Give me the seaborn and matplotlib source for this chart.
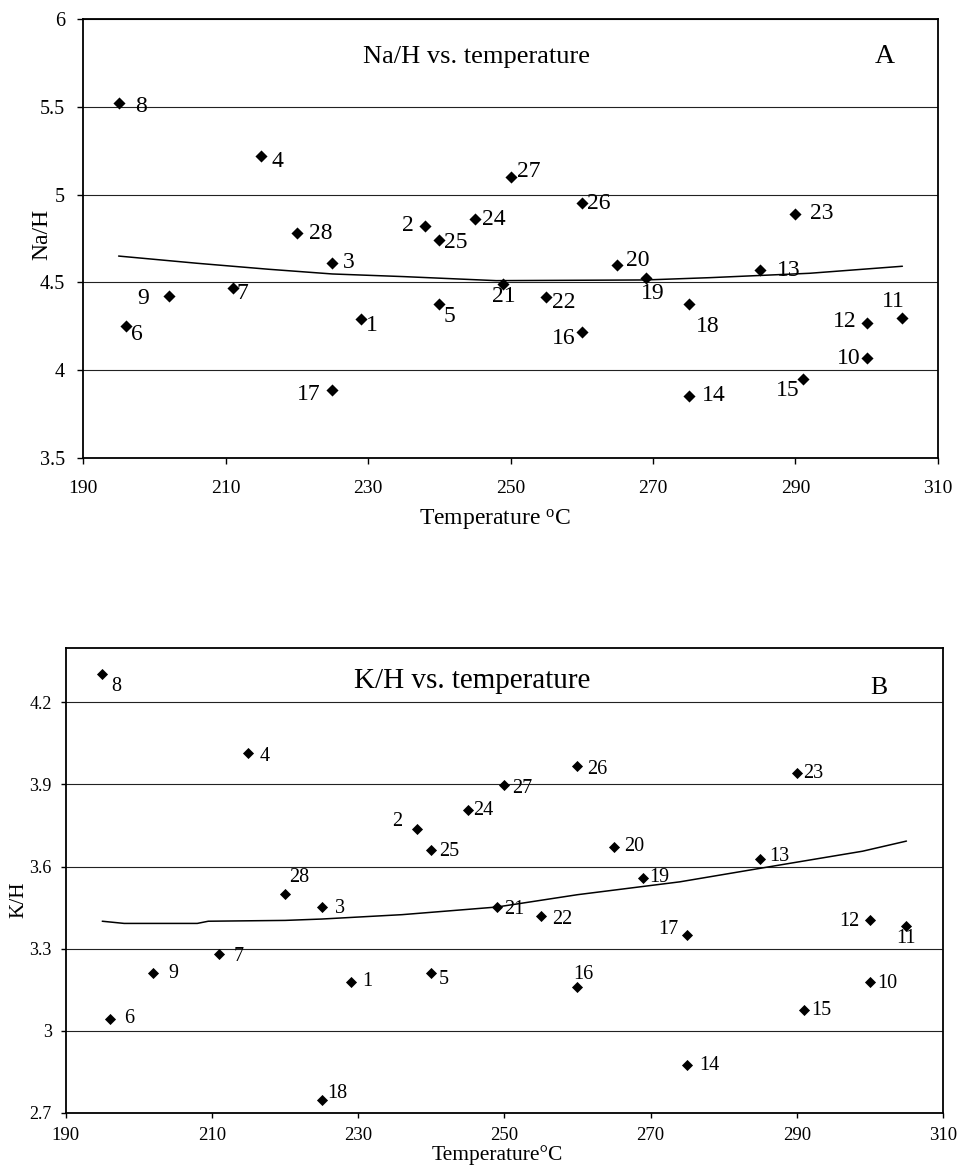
import matplotlib
matplotlib.use("Agg")
import matplotlib.pyplot as plt
import seaborn as sns
import numpy as np

# ---------------- data ----------------
ids = list(range(1, 29))

temp_a = [229, 238, 225, 215, 240, 196, 211, 195, 202, 300, 305, 300, 285, 275,
          291, 260, 225, 275, 269, 265, 249, 255, 290, 245, 240, 260, 250, 220]
na_h = [4.29, 4.82, 4.61, 5.22, 4.375, 4.25, 4.47, 5.52, 4.42, 4.07, 4.30, 4.27, 4.57, 3.855,
        3.95, 4.215, 3.89, 4.375, 4.525, 4.60, 4.49, 4.415, 4.89, 4.86, 4.74, 4.95, 5.10, 4.78]

temp_b = [229, 238, 225, 215, 240, 196, 211, 195, 202, 300, 305, 300, 285, 275,
          291, 260, 275, 225, 269, 265, 249, 255, 290, 245, 240, 260, 250, 220]
k_h = [3.178, 3.736, 3.451, 4.016, 3.209, 3.044, 3.28, 4.303, 3.209, 3.178, 3.384, 3.403, 3.628, 2.874,
       3.076, 3.158, 3.348, 2.745, 3.559, 3.673, 3.452, 3.42, 3.941, 3.806, 3.66, 3.967, 3.897, 3.501]

curve_temp_a = [195, 206, 216, 225, 235, 248, 269, 278, 292, 305]
curve_na = [4.650, 4.609, 4.575, 4.548, 4.533, 4.510, 4.514, 4.527, 4.552, 4.592]

curve_temp_b = [195, 198, 208, 209.5, 220, 225, 236, 249, 260, 274, 288, 299, 305]
curve_k = [3.400, 3.392, 3.392, 3.400, 3.403, 3.408, 3.424, 3.452, 3.497, 3.544, 3.607, 3.656, 3.693]

xticks = [190, 210, 230, 250, 270, 290, 310]
yticks_a = [3.5, 4, 4.5, 5, 5.5, 6]
ytick_labels_a = ["3.5", "4", "4.5", "5", "5.5", "6"]
yticks_b = [2.7, 3.0, 3.3, 3.6, 3.9, 4.2]
ytick_labels_b = ["2.7", "3", "3.3", "3.6", "3.9", "4.2"]

# label offsets in pixels: (dx, dy_down, ha)
offs_a = {1: (5.4, 6.5, 'left'), 2: (-11, -1, 'right'), 3: (10.7, -1, 'left'), 4: (10.7, 6, 'left'),
          5: (4, 12, 'left'), 6: (5.6, 8, 'left'), 7: (4, 6, 'left'), 8: (17, 3, 'left'),
          9: (-19, 2, 'right'), 10: (-6.7, 1, 'right'), 11: (-9, -16, 'center'), 12: (-10, -1.5, 'right'),
          13: (16.7, 0, 'left'), 14: (13, 0, 'left'), 15: (-3, 12, 'right'), 16: (-6, 6, 'right'),
          17: (-12, 5, 'right'), 18: (7.3, 22, 'left'), 19: (7, 15, 'center'), 20: (8.7, -4, 'left'),
          21: (0.5, 12.6, 'center'), 22: (6, 5, 'left'), 23: (15, 0, 'left'), 24: (7, 0, 'left'),
          25: (5, 2, 'left'), 26: (5.6, 0, 'left'), 27: (7, -6, 'left'), 28: (12.7, 0, 'left')}
offs_b = {1: (11.7, 0, 'left'), 2: (-14, -8, 'right'), 3: (13, 1, 'left'), 4: (11.6, 4, 'left'),
          5: (8, 6, 'left'), 6: (15, 0, 'left'), 7: (14, 2, 'left'), 8: (9.3, 12, 'left'),
          9: (15, 0, 'left'), 10: (7.5, 2, 'left'), 11: (0, 13, 'center'), 12: (-10.7, 1, 'right'),
          13: (9.3, -2, 'left'), 14: (11.6, 0, 'left'), 15: (6.7, 1, 'left'), 16: (5.5, -12.7, 'center'),
          17: (-9, -6, 'right'), 18: (5.6, -6.5, 'left'), 19: (5.6, 0, 'left'), 20: (10, 0, 'left'),
          21: (6.6, 2, 'left'), 22: (11.6, 4, 'left'), 23: (6.3, 0, 'left'), 24: (5.4, 0, 'left'),
          25: (8, 1, 'left'), 26: (10, 3.3, 'left'), 27: (7.4, 3, 'left'), 28: (4, -15.7, 'left')}

# ---------------- style ----------------
sns.set_theme(style="ticks")
plt.rcParams['font.family'] = ['Liberation Serif', 'DejaVu Serif']
plt.rcParams['mathtext.fontset'] = 'custom'
plt.rcParams['mathtext.rm'] = 'Liberation Serif'
plt.rcParams['mathtext.it'] = 'Liberation Serif:italic'
plt.rcParams['text.color'] = 'black'
plt.rcParams['axes.labelcolor'] = 'black'
plt.rcParams['xtick.color'] = 'black'
plt.rcParams['ytick.color'] = 'black'

W, H = 962, 1167
fig = plt.figure(figsize=(W / 100, H / 100), dpi=100)
fig.patch.set_facecolor('white')

PX = 0.72  # points per pixel at dpi 100

ax1 = fig.add_axes([83 / W, (H - 458) / H, 855 / W, 439 / H])
ax2 = fig.add_axes([65.7 / W, (H - 1112.7) / H, 877.3 / W, 465 / H])


def draw(ax, temps, vals, ctemp, cvals, offs, fs_pts, msize):
    ax.set_axisbelow(True)
    ax.yaxis.grid(True, color='#222222', linewidth=0.8)
    sns.lineplot(x=ctemp, y=cvals, ax=ax, color='black', linewidth=1.1, sort=False,
                 estimator=None)
    sns.scatterplot(x=temps, y=vals, ax=ax, marker='D', s=msize, color='black',
                    linewidth=0, zorder=3)
    for i, t, v in zip(ids, temps, vals):
        dx, dy, ha = offs[i]
        ax.annotate(str(i), (t, v), xytext=(dx * PX, -dy * PX), textcoords='offset points',
                    ha=ha, va='center', fontsize=fs_pts, color='black')
    for s in ax.spines.values():
        s.set_visible(True)
        s.set_color('black')
        s.set_linewidth(1.3)


# ---- Panel A ----
draw(ax1, temp_a, na_h, curve_temp_a, curve_na, offs_a, 17, 38)
ax1.set_xlim(190, 310)
ax1.set_ylim(3.5, 6)
ax1.set_xticks(xticks)
ax1.set_yticks(yticks_a)
ax1.set_yticklabels(ytick_labels_a)
ax1.tick_params(axis='y', direction='out', length=4.5, width=1, pad=8.6, labelsize=14.5)
ax1.tick_params(axis='x', direction='out', length=4, width=1, pad=12, labelsize=14)
ax1.set_xlabel('Temperature $^{\\mathrm{o}}$C', fontsize=17)
ax1.set_ylabel('Na/H', fontsize=17)
ax1.xaxis.set_label_coords(0.482, -0.112)
ax1.yaxis.set_label_coords(-0.036, 0.509)
ax1.text(0.4605, 0.9005, 'Na/H vs. temperature', transform=ax1.transAxes, ha='center',
         va='baseline', fontsize=19)
ax1.text(0.938, 0.899, 'A', transform=ax1.transAxes, ha='center', va='baseline', fontsize=20)

# ---- Panel B ----
draw(ax2, temp_b, k_h, curve_temp_b, curve_k, offs_b, 14.5, 32)
ax2.set_xlim(190, 310)
ax2.set_ylim(2.7, 4.4)
ax2.set_xticks(xticks)
ax2.set_yticks(yticks_b)
ax2.set_yticklabels(ytick_labels_b)
ax2.tick_params(axis='y', direction='out', length=3.6, width=1, pad=6.5, labelsize=13)
ax2.tick_params(axis='x', direction='out', length=3.6, width=1, pad=6.5, labelsize=13.5)
ax2.set_xlabel('Temperature°C', fontsize=15.5)
ax2.set_ylabel('K/H', fontsize=15.3)
ax2.xaxis.set_label_coords(0.492, -0.0695)
ax2.yaxis.set_label_coords(-0.042, 0.457)
ax2.text(0.4637, 0.9127, 'K/H vs. temperature', transform=ax2.transAxes, ha='center',
         va='baseline', fontsize=21)
ax2.text(0.927, 0.9004, 'B', transform=ax2.transAxes, ha='center', va='baseline', fontsize=18.5)

fig.savefig('out.png', dpi=100, facecolor='white')
